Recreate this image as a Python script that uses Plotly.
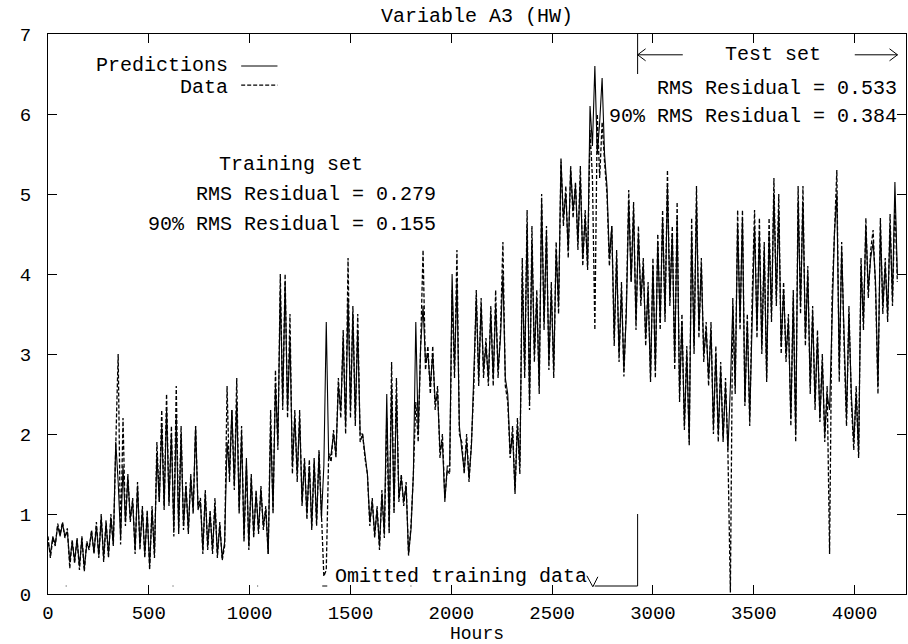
import numpy as np
import plotly.graph_objects as go

# Hourly series, sampled every 12 hours (Variable A3, HW)
STEP_HOURS = 12
data_values = [
    0.72, 0.45, 0.70, 0.60, 0.88, 0.75, 0.90, 0.70, 0.82, 0.32, 0.68, 0.38, 0.70, 0.30, 0.72, 0.28, 0.66, 0.55, 0.80, 0.50, 0.90, 0.45, 1.00, 0.40, 0.92,
    0.45, 1.00, 0.60, 1.85, 3.00, 0.62, 2.20, 0.85, 1.50, 0.90, 1.20, 0.50, 1.40, 0.55, 1.10, 0.45, 1.05, 0.30, 1.10, 0.45, 1.90, 1.15, 2.30, 1.05, 2.50,
    1.10, 2.10, 0.72, 2.60, 0.75, 2.10, 0.80, 1.40, 0.75, 1.50, 1.00, 2.10, 1.10, 1.20, 0.50, 1.30, 0.55, 1.05, 0.50, 1.20, 0.45, 0.90, 0.42, 0.60, 2.60,
    1.40, 2.30, 1.30, 2.70, 1.00, 2.10, 0.65, 1.60, 0.55, 1.50, 0.70, 1.30, 0.75, 1.35, 0.80, 1.10, 0.50, 2.30, 1.00, 2.80, 1.80, 4.00, 2.30, 4.00, 2.20,
    3.50, 1.50, 2.30, 1.40, 2.30, 1.10, 1.70, 0.93, 1.68, 0.80, 1.70, 0.85, 1.80, 0.90, 0.22, 0.30, 1.76, 1.65, 2.05, 1.70, 2.70, 2.20, 3.30, 2.00, 4.20,
    2.20, 3.60, 2.10, 3.50, 1.90, 2.00, 1.70, 1.50, 0.85, 1.20, 0.70, 1.10, 0.55, 1.30, 0.70, 2.20, 0.75, 2.90, 1.00, 2.70, 1.15, 1.50, 1.10, 1.40, 0.48,
    0.85, 1.50, 2.40, 1.90, 3.00, 4.30, 2.80, 3.10, 2.50, 3.10, 2.30, 2.60, 1.70, 2.00, 1.20, 1.55, 1.50, 3.80, 2.70, 4.30, 2.00, 1.90, 1.50, 2.00, 1.40,
    1.90, 2.60, 3.80, 2.60, 3.70, 2.70, 3.20, 2.60, 3.60, 2.60, 3.80, 2.70, 3.30, 4.40, 2.60, 2.40, 1.70, 2.10, 1.25, 2.20, 1.50, 4.20, 2.70, 4.80, 2.30,
    4.60, 2.90, 3.80, 2.50, 5.00, 3.30, 4.60, 2.80, 3.90, 2.70, 4.40, 3.50, 5.45, 4.60, 5.10, 4.20, 5.35, 4.70, 5.15, 4.30, 5.35, 4.10, 4.80, 4.05, 5.80,
    5.20, 3.30, 6.00, 5.20, 5.90, 5.40, 5.00, 4.10, 4.60, 3.10, 4.30, 2.90, 3.90, 2.72, 3.60, 5.05, 3.90, 4.90, 3.30, 4.60, 3.60, 4.20, 3.10, 3.90, 2.65,
    4.20, 2.70, 4.50, 3.30, 4.80, 3.40, 5.30, 3.60, 4.60, 2.80, 4.90, 2.40, 3.50, 2.05, 3.10, 1.85, 4.70, 3.00, 5.10, 3.20, 4.20, 2.90, 3.40, 2.60, 3.40,
    2.00, 3.10, 1.90, 2.90, 1.90, 2.70, 1.75, 0.02, 3.70, 2.50, 4.80, 3.30, 4.80, 2.35, 3.50, 2.10, 3.70, 4.80, 3.20, 4.70, 3.00, 4.40, 2.65, 4.70, 3.40,
    5.20, 3.60, 5.00, 3.00, 3.90, 2.90, 3.50, 2.10, 3.80, 1.90, 5.10, 3.50, 5.10, 3.10, 4.10, 2.50, 3.60, 2.30, 3.30, 2.15, 3.00, 1.90, 2.60, 0.50, 3.70,
    4.60, 5.30, 2.65, 4.40, 3.10, 2.10, 3.60, 2.40, 1.80, 2.60, 1.70, 4.20, 3.30, 4.70, 3.70, 4.30, 4.55, 3.80, 2.50, 4.70, 3.50, 4.20, 3.40, 4.75, 3.60,
    4.90, 3.90,
]
prediction_values = [
    0.65, 0.50, 0.72, 0.62, 0.85, 0.72, 0.88, 0.72, 0.78, 0.40, 0.65, 0.42, 0.68, 0.35, 0.70, 0.32, 0.62, 0.58, 0.78, 0.52, 0.85, 0.48, 0.95, 0.45, 0.88,
    0.50, 0.95, 0.62, 1.90, 1.40, 0.70, 1.60, 0.90, 1.45, 0.95, 1.15, 0.55, 1.35, 0.60, 1.05, 0.50, 1.00, 0.35, 1.05, 0.50, 1.75, 1.15, 2.10, 1.10, 2.30,
    1.15, 2.00, 0.80, 2.20, 0.80, 2.00, 0.85, 1.35, 0.80, 1.45, 1.05, 2.10, 1.05, 1.15, 0.55, 1.25, 0.60, 1.00, 0.55, 1.10, 0.50, 0.85, 0.45, 0.65, 1.90,
    1.50, 2.30, 1.35, 2.40, 1.05, 2.00, 0.70, 1.70, 0.60, 1.45, 0.75, 1.25, 0.80, 1.30, 0.85, 1.05, 0.50, 2.10, 1.05, 2.60, 1.90, 3.80, 2.40, 3.90, 2.30,
    3.20, 1.60, 2.20, 1.50, 2.20, 1.15, 1.65, 1.00, 1.60, 0.85, 1.65, 0.90, 1.75, 0.95, 1.60, 3.40, 1.70, 1.75, 2.00, 1.75, 2.60, 2.30, 3.20, 2.10, 3.70,
    2.30, 3.50, 2.20, 3.30, 2.00, 2.00, 1.75, 1.50, 0.90, 1.15, 0.75, 1.05, 0.60, 1.25, 0.75, 2.50, 0.80, 2.60, 1.05, 2.50, 1.20, 1.45, 1.15, 1.35, 0.50,
    0.80, 1.50, 3.40, 2.00, 3.10, 3.60, 2.90, 3.00, 2.60, 3.00, 2.40, 2.50, 1.80, 1.90, 1.15, 1.60, 1.60, 4.00, 2.80, 3.90, 2.10, 1.80, 1.55, 1.90, 1.45,
    1.85, 2.70, 3.70, 2.70, 3.60, 2.80, 3.10, 2.70, 3.50, 2.70, 3.60, 2.80, 3.20, 4.00, 2.70, 2.50, 1.75, 2.00, 1.30, 2.10, 1.60, 4.00, 2.80, 4.60, 2.40,
    4.40, 3.00, 3.70, 2.60, 4.90, 3.40, 4.50, 2.90, 3.80, 2.80, 4.30, 3.60, 5.40, 4.70, 5.00, 4.30, 5.30, 4.80, 5.10, 4.40, 5.20, 4.20, 4.70, 4.10, 6.10,
    5.60, 6.60, 5.50, 5.90, 6.45, 5.50, 5.10, 4.20, 4.60, 3.20, 4.20, 3.00, 3.80, 2.80, 3.50, 4.90, 3.90, 4.80, 3.40, 4.50, 3.70, 4.10, 3.20, 3.80, 2.70,
    4.10, 2.80, 4.40, 3.40, 4.70, 3.50, 5.10, 3.70, 4.50, 2.90, 4.70, 2.50, 3.40, 2.10, 3.00, 1.90, 4.50, 3.10, 4.90, 3.30, 4.10, 3.00, 3.30, 2.70, 3.30,
    2.10, 3.00, 2.00, 2.80, 1.95, 2.60, 1.80, 2.60, 3.60, 2.60, 4.60, 3.40, 4.70, 2.40, 3.40, 2.20, 3.60, 4.60, 3.30, 4.50, 3.10, 4.30, 2.70, 4.50, 3.50,
    5.00, 3.70, 4.80, 3.10, 3.80, 3.00, 3.40, 2.20, 3.70, 2.00, 4.90, 3.60, 4.90, 3.20, 4.00, 2.60, 3.50, 2.40, 3.20, 2.20, 2.90, 2.00, 2.50, 2.30, 3.60,
    4.50, 5.00, 2.80, 4.30, 3.20, 2.20, 3.50, 2.50, 1.90, 2.50, 1.75, 4.10, 3.40, 4.60, 3.80, 4.20, 4.40, 3.90, 2.60, 4.60, 3.60, 4.10, 3.50, 4.60, 3.70,
    5.15, 4.00,
]
hours = np.arange(len(data_values)) * STEP_HOURS

# Stretches of omitted training data (start hour, end hour) and marker level
omitted_start = [88, 618, 1038, 1360, 1798, 2711]
omitted_end = [92, 622, 1042, 1385, 1802, 2924]
OMITTED_LEVEL = 0.1

# Training / test boundary and axis extents
SPLIT_HOUR = 2924
X_MAX = 4255
Y_MAX = 7

train_stats = ["RMS Residual = 0.279", "90% RMS Residual = 0.155"]
test_stats = ["RMS Residual = 0.533", "90% RMS Residual = 0.384"]

FONT = "Liberation Mono"
W, H = 908, 644
ML, MR, MT, MB = 48, 2, 34, 50
PX_PER_H = (W - ML - MR) / X_MAX
PX_PER_V = (H - MT - MB) / Y_MAX
DASH = "4px,2px"

def hx(px):
    """pixel offset -> hours"""
    return px / PX_PER_H

def vy(px):
    """pixel offset -> value units"""
    return px / PX_PER_V

fig = go.Figure()
fig.add_trace(go.Scatter(x=hours, y=prediction_values, mode="lines", name="Predictions",
                         line=dict(color="black", width=1.1), showlegend=False))
fig.add_trace(go.Scatter(x=hours, y=data_values, mode="lines", name="Data",
                         line=dict(color="black", width=1.3, dash=DASH), showlegend=False))

om_x, om_y = [], []
for s, e in zip(omitted_start, omitted_end):
    om_x += [s, e, None]
    om_y += [OMITTED_LEVEL, OMITTED_LEVEL, None]
fig.add_trace(go.Scatter(x=om_x, y=om_y, mode="lines", line=dict(color="black", width=1),
                         showlegend=False, hoverinfo="skip"))

shapes = []
def seg(x0, y0, x1, y1, dash=None, width=1):
    ln = dict(color="black", width=width)
    if dash:
        ln["dash"] = dash
    shapes.append(dict(type="line", xref="x", yref="y", x0=x0, y0=y0, x1=x1, y1=y1, line=ln))

# Legend samples
leg_x0, leg_x1 = 958, 1138
seg(leg_x0, 6.6, leg_x1, 6.6)
seg(leg_x0, 6.36, leg_x1, 6.36, dash=DASH, width=1.3)

# Test set marker: boundary tick + arrows
arrow_y = 6.74
seg(SPLIT_HOUR, Y_MAX, SPLIT_HOUR, 6.5)
seg(SPLIT_HOUR, arrow_y, 3148, arrow_y)
seg(SPLIT_HOUR, arrow_y, SPLIT_HOUR + hx(8), arrow_y + vy(6))
seg(SPLIT_HOUR, arrow_y, SPLIT_HOUR + hx(8), arrow_y - vy(6))
right_tip = 4213
seg(4001, arrow_y, right_tip, arrow_y)
seg(right_tip, arrow_y, right_tip - hx(8), arrow_y + vy(6))
seg(right_tip, arrow_y, right_tip - hx(8), arrow_y - vy(6))

# Omitted-data pointer
seg(SPLIT_HOUR, OMITTED_LEVEL, SPLIT_HOUR, 1.0)
tip_x, tip_y = 2702, 0.09
seg(tip_x, tip_y, tip_x - hx(6), tip_y + vy(11))
seg(tip_x, tip_y, tip_x + hx(5), tip_y + vy(10))

fig.update_layout(shapes=shapes)

tf = dict(family=FONT, size=20, color="black")
ann = []
def txt(x, y, s, anchor):
    ann.append(dict(x=x, y=y, xref="x", yref="y", text=s, showarrow=False,
                    xanchor=anchor, yanchor="middle", font=tf, borderpad=0))

txt(897, 6.61, "Predictions", "right")
txt(897, 6.33, "Data", "right")
txt(1204, 5.375, "Training set", "center")
txt(1928, 4.99, train_stats[0], "right")
txt(1928, 4.62, train_stats[1], "right")
txt(3595, arrow_y, "Test set", "center")
txt(4215, 6.325, test_stats[0], "right")
txt(4215, 5.975, test_stats[1], "right")
txt(1417, 0.225, "Omitted training data", "left")
fig.update_layout(annotations=ann)

axis_common = dict(showline=True, linecolor="black", linewidth=1, mirror="allticks",
                   ticks="inside", ticklen=9, tickcolor="black", tickwidth=1,
                   showgrid=False, zeroline=False,
                   tickfont=dict(family=FONT, size=19, color="black"))
fig.update_xaxes(range=[0, X_MAX], tickvals=[0, 500, 1000, 1500, 2000, 2500, 3000, 3500, 4000],
                 title=dict(text="Hours", font=dict(family=FONT, size=18, color="black"), standoff=0),
                 ticklabelstandoff=1, **axis_common)
fig.update_yaxes(range=[0, Y_MAX], tickvals=list(range(0, 8)), ticklabelstandoff=12, **axis_common)

fig.update_layout(
    width=W, height=H,
    margin=dict(l=ML, r=MR, t=MT, b=MB, pad=0),
    plot_bgcolor="white", paper_bgcolor="white",
    title=dict(text="Variable A3 (HW)", x=0.5, xref="paper", xanchor="center",
               y=1 - 15 / H, yanchor="middle", font=dict(family=FONT, size=20, color="black")),
    showlegend=False,
)

fig.write_html("out.html")
